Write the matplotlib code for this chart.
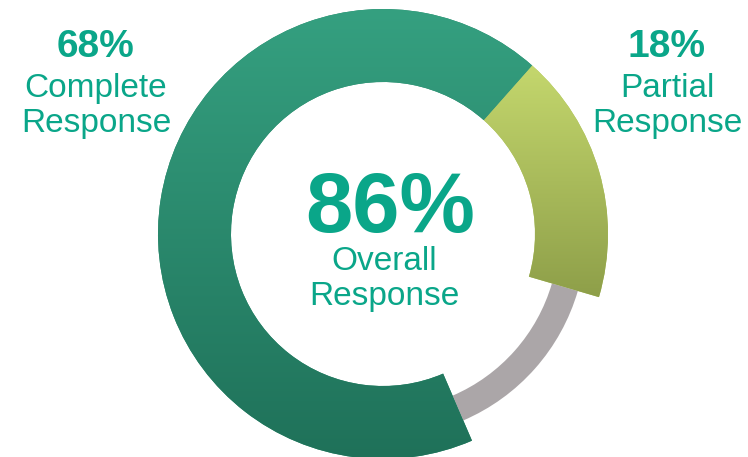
import numpy as np
import matplotlib
matplotlib.use('Agg')
import matplotlib.pyplot as plt
from matplotlib.colors import LinearSegmentedColormap

# ---- data ----
categories = ['Partial Response', 'No Response', 'Complete Response']
values = [18, 14, 68]
overall_value = 86
overall_label = ['Overall', 'Response']
complete_label = ['Complete', 'Response']
partial_label = ['Partial', 'Response']

W, H = 748, 457
fig = plt.figure(figsize=(W / 100, H / 100), dpi=100)
ax = fig.add_axes([0, 0, 1, 1])
ax.axis('off')

cx, cy = 383, H - 234
R, r = 225, 152
gray_outer, gray_w = 203, 27

txt_color = '#0aa689'
fam = ['Liberation Sans', 'DejaVu Sans']

# main ring (yellow + green)
wedges, _ = ax.pie(values, startangle=48.5, counterclock=False, radius=R,
                   center=(cx, cy), frame=True,
                   wedgeprops=dict(width=R - r, linewidth=0, antialiased=True),
                   colors=['#aec35e', '#aba6a8', '#2a8a6c'])
wedges[1].set_visible(False)

# thin gray ring
gwedges, _ = ax.pie(values, startangle=48.5, counterclock=False, radius=gray_outer,
                    center=(cx, cy), frame=True,
                    wedgeprops=dict(width=gray_w, linewidth=0),
                    colors=['#aba6a8', '#aba6a8', '#aba6a8'])
gwedges[0].set_visible(False)
gwedges[2].set_visible(False)

# gradients
grads = {
    0: ('#8e9f49', '#c4d76d'),   # yellow: bottom, top
    2: ('#1f7159', '#35a080'),   # green: bottom, top
}
g = np.linspace(0, 1, 256).reshape(-1, 1)
for idx, (cbot, ctop) in grads.items():
    w = wedges[idx]
    ext = w.get_path().get_extents()
    cmap = LinearSegmentedColormap.from_list('g%d' % idx, [cbot, ctop])
    im = ax.imshow(g, extent=[ext.x0, ext.x1, ext.y0, ext.y1], origin='lower',
                   cmap=cmap, aspect='auto', interpolation='bilinear', zorder=2)
    im.set_clip_path(w)

# texts
def stack(x, pct, lines, y_pct, y_lines, size_pct, size_line):
    ax.text(x, H - y_pct, pct, ha='center', va='baseline', fontsize=size_pct,
            fontweight='bold', color=txt_color, family=fam, zorder=5)
    for ln, yy in zip(lines, y_lines):
        ax.text(x, H - yy, ln, ha='center', va='baseline', fontsize=size_line,
                color=txt_color, family=fam, zorder=5)

stack(96, f'{values[2]}%', complete_label, 57, [97, 132], 28, 24)
stack(667, f'{values[0]}%', partial_label, 57, [97, 132], 28, 24)
ax.text(390, H - 232, f'{overall_value}%', ha='center', va='baseline', fontsize=61,
        fontweight='bold', color=txt_color, family=fam, zorder=5)
for ln, yy in zip(overall_label, [270, 305]):
    ax.text(384, H - yy, ln, ha='center', va='baseline', fontsize=24,
            color=txt_color, family=fam, zorder=5)

ax.set_xlim(0, W)
ax.set_ylim(0, H)
ax.set_aspect('equal')
ax.axis('off')
fig.savefig('out.png', dpi=100, facecolor='white')
